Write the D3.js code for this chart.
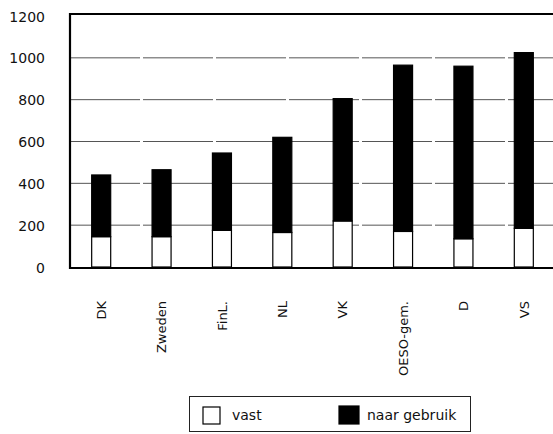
<!DOCTYPE html>
<html>
<head>
<meta charset="utf-8">
<script src="https://cdn.jsdelivr.net/npm/d3@7"></script>
<style>
  html, body { margin: 0; padding: 0; background: #fff; }
  svg { display: block; }
  text { font-family: "DejaVu Sans", sans-serif; fill: #111; }
</style>
</head>
<body>
<svg id="chart" width="553" height="434"></svg>
<script>
const categories = ["DK", "Zweden", "FinL.", "NL", "VK", "OESO-gem.", "D", "VS"];
const vast = [145, 145, 175, 165, 220, 170, 135, 185];
const naarGebruik = [295, 320, 370, 455, 585, 795, 825, 840];
const yTicks = [0, 200, 400, 600, 800, 1000, 1200];
const seriesNames = ["vast", "naar gebruik"];
const seriesColors = ["#ffffff", "#000000"];

const data = categories.map((c, i) => ({ cat: c, vast: vast[i], naar: naarGebruik[i] }));

const svg = d3.select("#chart");
const plot = { left: 70, right: 556, top: 14, bottom: 268 };

const x = d3.scaleBand()
  .domain(categories)
  .range([71, 554])
  .paddingInner(0.685)
  .paddingOuter(0.3425);

const y = d3.scaleLinear().domain([0, 1200]).range([267, 16]);

// gridlines
svg.append("g")
  .selectAll("line")
  .data(yTicks.filter(t => t > 0 && t < 1200))
  .join("line")
  .attr("x1", plot.left)
  .attr("x2", plot.right)
  .attr("y1", d => y(d))
  .attr("y2", d => y(d))
  .attr("stroke", "#555")
  .attr("stroke-width", 1)
  .attr("stroke-dasharray", "70 3");

// y tick labels
const yAxis = d3.axisLeft(y).tickValues(yTicks).tickFormat(d3.format("d")).tickSize(0).tickPadding(0);
const gy = svg.append("g").attr("transform", "translate(45,0)").call(yAxis);
gy.select(".domain").remove();
gy.selectAll("text")
  .style("font-family", "DejaVu Sans, sans-serif")
  .style("font-size", "14px")
  .attr("fill", "#111")
  .attr("dy", "0.36em");

// stacked bars
const stack = d3.stack().keys(["vast", "naar"]);
const layers = stack(data);
svg.append("g")
  .selectAll("g")
  .data(layers)
  .join("g")
  .attr("fill", (d, i) => seriesColors[i])
  .selectAll("rect")
  .data(d => d)
  .join("rect")
  .attr("x", d => x(d.data.cat))
  .attr("width", x.bandwidth())
  .attr("y", d => y(d[1]))
  .attr("height", d => y(d[0]) - y(d[1]))
  .attr("stroke", "#000")
  .attr("stroke-width", 1.2);

// frame (left, top, bottom)
svg.append("path")
  .attr("d", `M${plot.right},${plot.top} H${plot.left} V${plot.bottom} H${plot.right}`)
  .attr("fill", "none")
  .attr("stroke", "#000")
  .attr("stroke-width", 2.2);

// x labels
const xAxis = d3.axisBottom(x).tickSize(0).tickPadding(0);
const gx = svg.append("g").attr("transform", "translate(0,301)").call(xAxis);
gx.select(".domain").remove();
gx.selectAll("text")
  .style("font-family", "DejaVu Sans, sans-serif")
  .style("font-size", "13px")
  .attr("fill", "#111")
  .attr("text-anchor", "end")
  .attr("transform", "rotate(-90)")
  .attr("x", 0)
  .attr("y", 0)
  .attr("dy", "0.36em");

// legend
const lg = svg.append("g");
lg.append("rect")
  .attr("x", 189.5).attr("y", 396.5)
  .attr("width", 281).attr("height", 35)
  .attr("fill", "none").attr("stroke", "#222").attr("stroke-width", 1);
const legendItems = [
  { name: seriesNames[0], color: seriesColors[0], sx: 203, sy: 407, sw: 17, sh: 17, tx: 232 },
  { name: seriesNames[1], color: seriesColors[1], sx: 339, sy: 406, sw: 20, sh: 18, tx: 367 }
];
legendItems.forEach(it => {
  lg.append("rect")
    .attr("x", it.sx).attr("y", it.sy)
    .attr("width", it.sw).attr("height", it.sh)
    .attr("fill", it.color).attr("stroke", "#000").attr("stroke-width", 1.2);
  lg.append("text")
    .attr("x", it.tx).attr("y", 420)
    .style("font-size", "14px")
    .text(it.name);
});
</script>
</body>
</html>
